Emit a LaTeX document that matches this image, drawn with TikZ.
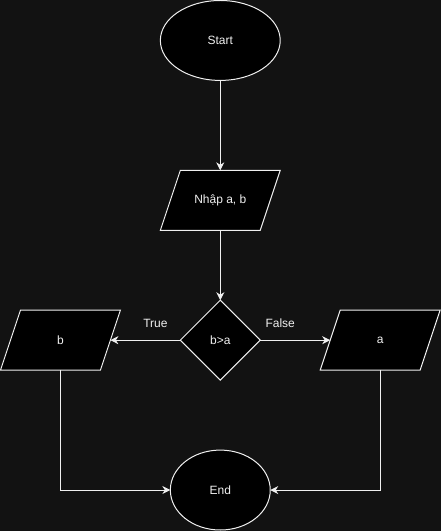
\documentclass[tikz,border=0pt]{standalone}
\usepackage{fontspec}
\setmainfont{Liberation Sans}
\usetikzlibrary{shapes.geometric,arrows.meta,backgrounds}
\definecolor{bg}{HTML}{121212}
\definecolor{ink}{HTML}{F0F0F0}
\tikzset{
  txt/.style={text=ink, font=\fontsize{12}{14}\selectfont},
  base/.style={txt, draw=ink, fill=black, line width=1pt, inner sep=0pt, outer sep=0pt},
  terminal/.style={base, ellipse, minimum height=80pt},
  % input/output box: a 100x60 frame whose outline is drawn as a slanted parallelogram
  iobox/.style={txt, rectangle, inner sep=0pt, outer sep=0pt, minimum width=100pt, minimum height=60pt},
  slant/.style={draw=ink, fill=black, line width=1pt, line join=miter},
  decision/.style={base, diamond, aspect=1, minimum width=80pt, minimum height=80pt},
  flow/.style={draw=ink, line width=1pt, -{Stealth[length=8pt,width=8pt,inset=2.5pt]}},
  lbl/.style={txt}
}
\newcommand{\slantbox}[1]{%
  \draw[slant] ([xshift=-10pt]#1.south west) -- ([xshift=-10pt]#1.south east)
    -- ([xshift=10pt]#1.north east) -- ([xshift=10pt]#1.north west) -- cycle;}
\begin{document}
\begin{tikzpicture}[x=1pt,y=-1pt]
  \node[terminal, minimum width=120pt] (start) at (220,40) {Start};
  \node[iobox] (input) at (220,200) {Nhập a, b};
  \node[decision] (cmp) at (220,340) {b>a};
  \node[iobox] (outb) at (60,340) {b};
  \node[iobox] (outa) at (380,340) {a};
  \node[terminal, minimum width=100pt] (stop) at (220,490) {End};

  \begin{scope}[on background layer]
    \fill[bg] (0,0) rectangle (441,531);
    \slantbox{input}
    \slantbox{outb}
    \slantbox{outa}
  \end{scope}
  \useasboundingbox (0,0) rectangle (441,531);

  \draw[flow] (start.south) -- (input.north);
  \draw[flow] (input.south) -- (cmp.north);
  \draw[flow] (cmp.west) -- (outb.east);
  \draw[flow] (cmp.east) -- (outa.west);
  \draw[flow] (outb.south) |- (stop.west);
  \draw[flow] (outa.south) |- (stop.east);

  \node[lbl] (ltrue) at (155,323) {True};
  \node[lbl] (lfalse) at (280,323) {False};
\end{tikzpicture}
\end{document}
